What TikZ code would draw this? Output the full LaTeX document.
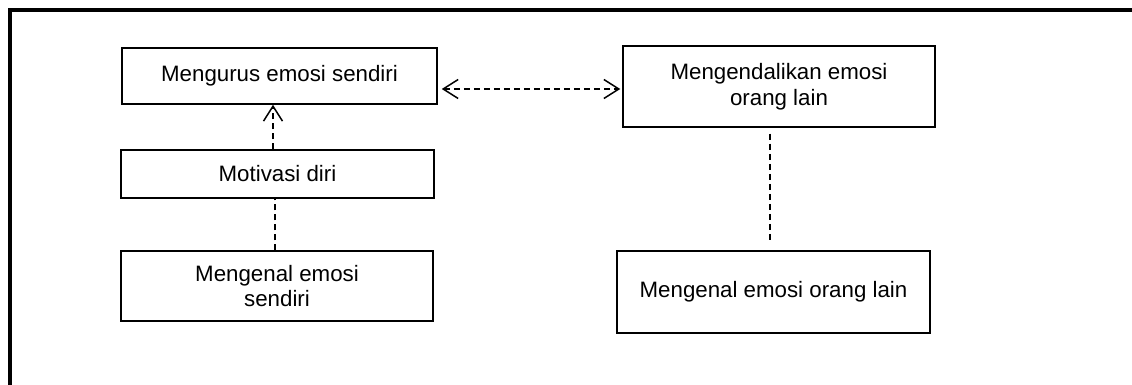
\documentclass[tikz,border=0pt]{standalone}
\usepackage{fontspec}
\setmainfont{Liberation Sans}
\usetikzlibrary{arrows.meta}
\tikzset{
  box/.style={draw=black, line width=1.5pt, fill=white, align=center, inner sep=0pt,
    font=\fontsize{22.3}{25.5}\selectfont},
  dline/.style={draw=black, line width=1.4pt, dash pattern=on 6pt off 4pt},
}
\begin{document}
\begin{tikzpicture}[x=1pt, y=-1pt]
\useasboundingbox (0,0) rectangle (1132,385);
\begin{scope}
\clip (0,0) rectangle (1132,385);
\draw[line width=4pt] (10,400) -- (10,10) -- (1150,10);
\end{scope}
\node[box, minimum width=315pt, minimum height=56pt] (a) at (279.5,76) {Mengurus emosi sendiri};
\node[box, minimum width=313pt, minimum height=48pt] (b) at (277.5,174) {Motivasi diri};
\node[box, minimum width=312pt, minimum height=70pt] (c) at (277,286) {Mengenal emosi\\sendiri};
\node[box, minimum width=312pt, minimum height=81pt] (d) at (779,86.5) {Mengendalikan emosi\\orang lain};
\node[box, minimum width=313pt, minimum height=82pt] (e) at (773.5,292) {Mengenal emosi orang lain};
\coordinate (ar) at (a.east |- 0,89);
\coordinate (dl) at (d.west |- 0,89);
\draw[dline, {Straight Barb[length=15pt, width=19pt, line width=1.5pt]}-{Straight Barb[length=15pt, width=19pt, line width=1.5pt]}, shorten <=4pt, shorten >=2pt] (ar) -- (dl);
\draw[dline, -{Straight Barb[length=15pt, width=19pt, line width=1.5pt]}] ([xshift=-4.5pt]b.north) -- ([xshift=-4.5pt]b.north |- a.south);
\draw[dline] ([xshift=-2pt]c.north) -- ([xshift=-2pt]c.north |- b.south);
\draw[dline, shorten <=6pt, shorten >=7pt] ([xshift=-9pt]d.south) -- ([xshift=-9pt]d.south |- e.north);
\end{tikzpicture}
\end{document}
